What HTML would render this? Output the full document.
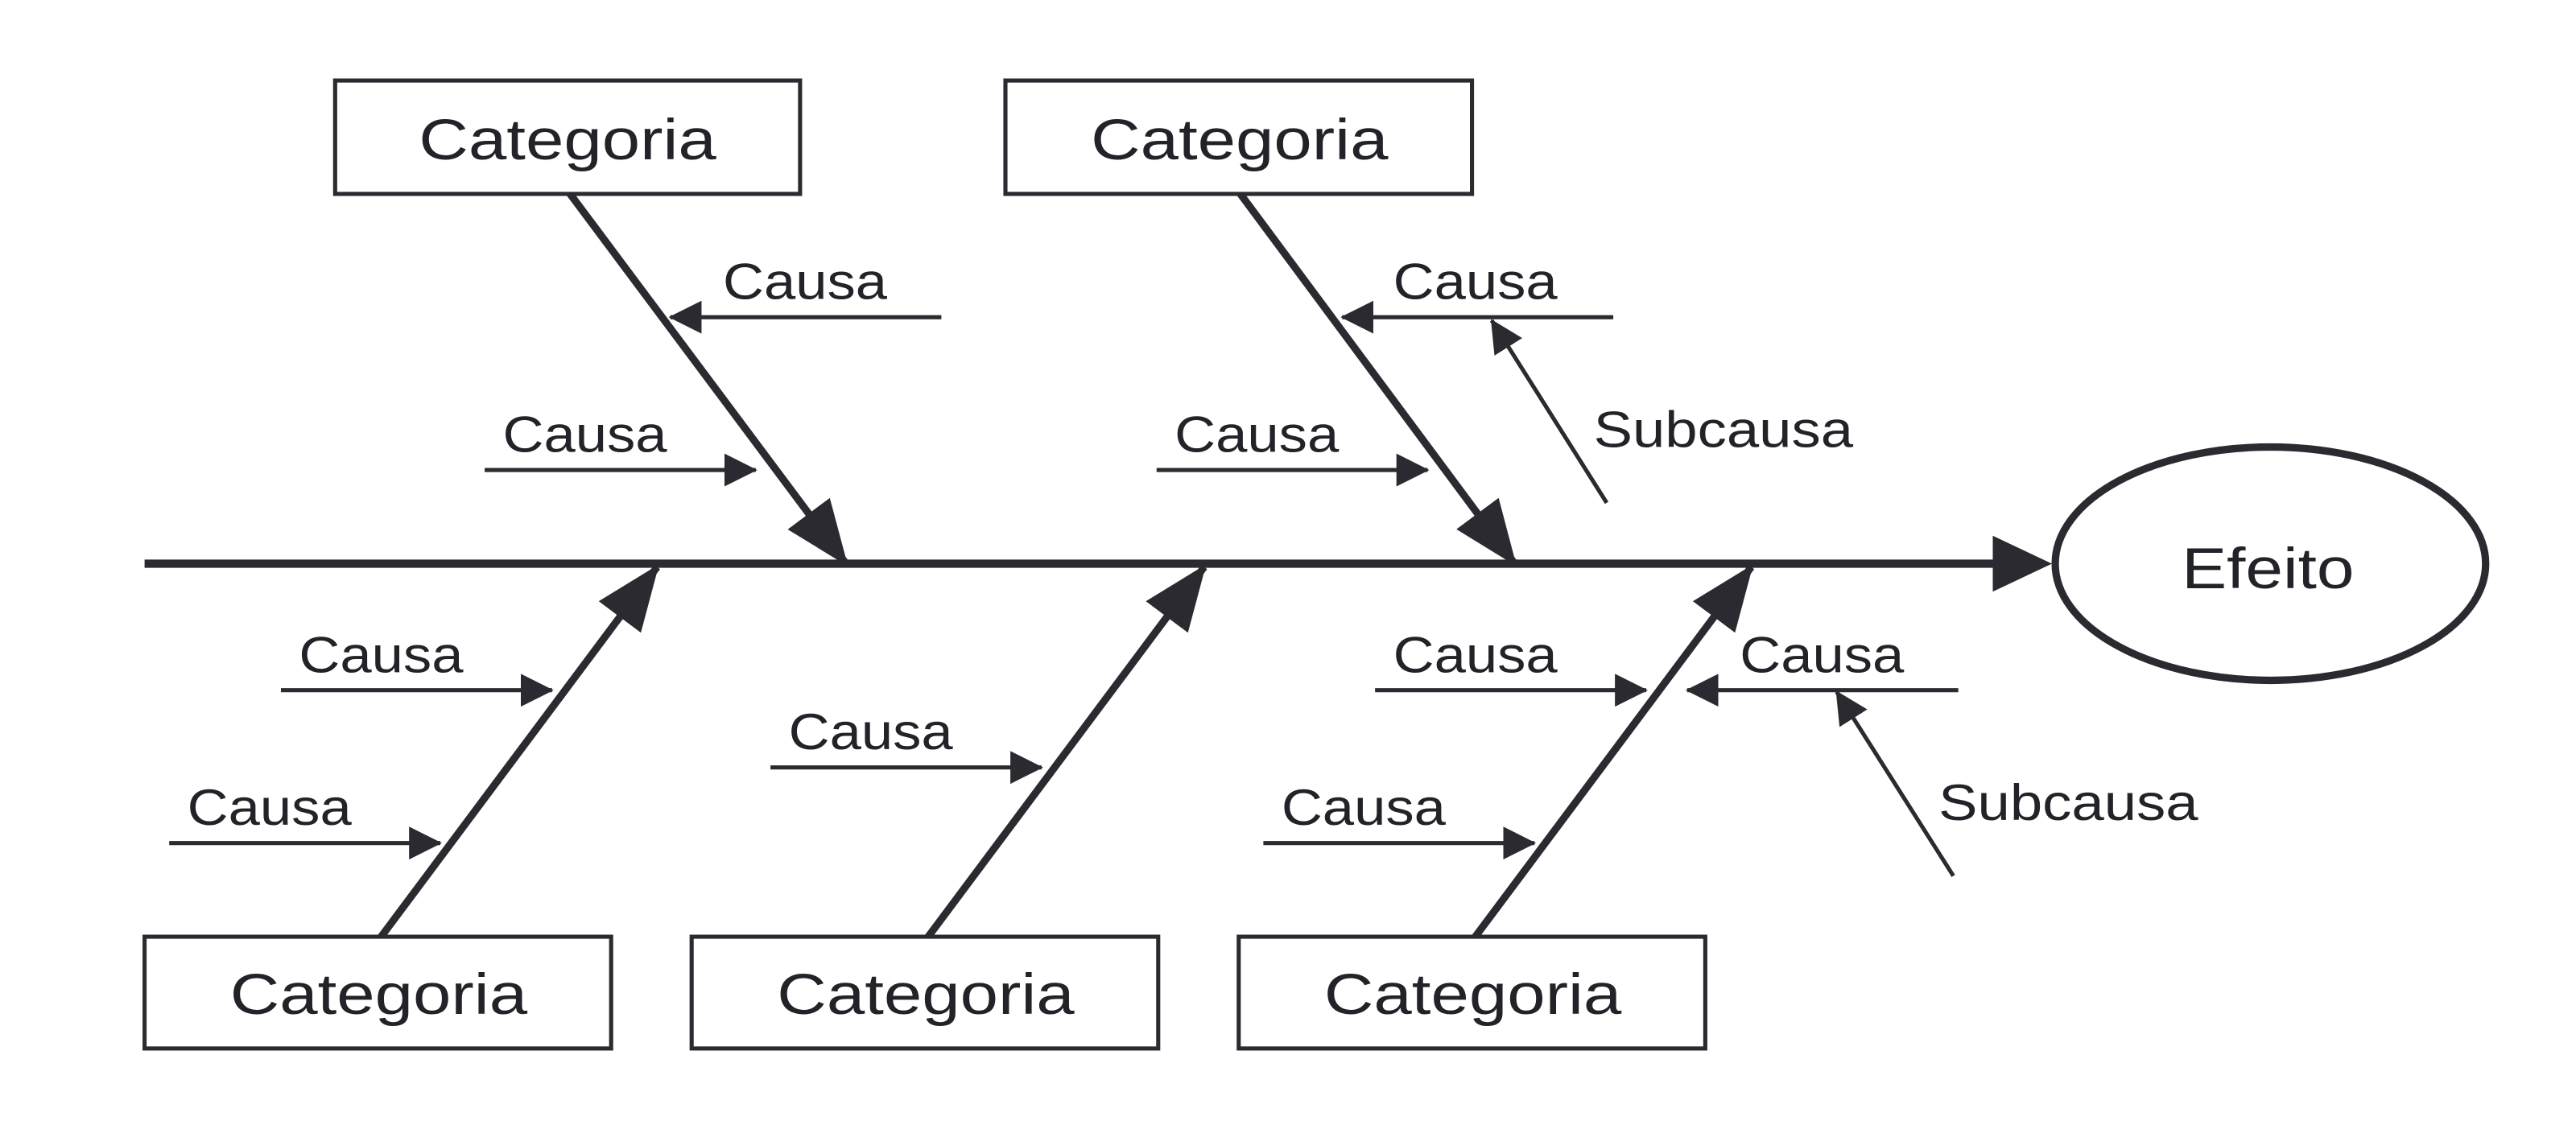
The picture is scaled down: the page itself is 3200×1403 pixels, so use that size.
<!DOCTYPE html>
<html><head><meta charset="utf-8"><style>
html,body{margin:0;padding:0;background:#fff;}
svg{display:block;}
text{font-family:"Liberation Sans",sans-serif;fill:#222228;}
</style></head><body>
<svg width="3200" height="1403" viewBox="0 0 1568 687" preserveAspectRatio="none" xmlns="http://www.w3.org/2000/svg">
<defs>
<marker id="big" viewBox="0 0 40 32" refX="38" refY="16" markerWidth="40" markerHeight="32" markerUnits="userSpaceOnUse" orient="auto"><path d="M0,0 L40,16 L0,32 Z" fill="#2a2a30"/></marker>
<marker id="sm" viewBox="0 0 20 20" refX="19" refY="10" markerWidth="20" markerHeight="20" markerUnits="userSpaceOnUse" orient="auto"><path d="M0,0 L20,10 L0,20 Z" fill="#2a2a30"/></marker>
</defs>
<g stroke="#2a2a30" fill="none">
<!-- spine -->
<line x1="88" y1="343" x2="1217" y2="343" stroke-width="5"/>
<path d="M1213,326 L1249,343 L1213,360 Z" fill="#2a2a30" stroke="none"/>
<ellipse cx="1382" cy="343" rx="131" ry="71" stroke-width="4.5"/>
<!-- boxes -->
<g stroke-width="2.5">
<rect x="204" y="49" width="283" height="69"/>
<rect x="612" y="49" width="284" height="69"/>
<rect x="88" y="570" width="284" height="68"/>
<rect x="421" y="570" width="284" height="68"/>
<rect x="754" y="570" width="284" height="68"/>
</g>
<!-- bones -->
<g stroke-width="4.5">
<line x1="347" y1="118" x2="515" y2="343" marker-end="url(#big)"/>
<line x1="755" y1="118" x2="922" y2="343" marker-end="url(#big)"/>
<line x1="232" y1="570" x2="400" y2="345" marker-end="url(#big)"/>
<line x1="565" y1="570" x2="733" y2="345" marker-end="url(#big)"/>
<line x1="898" y1="570" x2="1066" y2="345" marker-end="url(#big)"/>
</g>
<!-- causes -->
<g stroke-width="2.5">
<line x1="573" y1="193" x2="408" y2="193" marker-end="url(#sm)"/>
<line x1="295" y1="286" x2="460" y2="286" marker-end="url(#sm)"/>
<line x1="982" y1="193" x2="817" y2="193" marker-end="url(#sm)"/>
<line x1="704" y1="286" x2="869" y2="286" marker-end="url(#sm)"/>
<line x1="978" y1="306" x2="908" y2="195" marker-end="url(#sm)"/>
<line x1="171" y1="420" x2="336" y2="420" marker-end="url(#sm)"/>
<line x1="103" y1="513" x2="268" y2="513" marker-end="url(#sm)"/>
<line x1="469" y1="467" x2="634" y2="467" marker-end="url(#sm)"/>
<line x1="837" y1="420" x2="1002" y2="420" marker-end="url(#sm)"/>
<line x1="1192" y1="420" x2="1027" y2="420" marker-end="url(#sm)"/>
<line x1="769" y1="513" x2="934" y2="513" marker-end="url(#sm)"/>
<line x1="1189" y1="533" x2="1118" y2="421" marker-end="url(#sm)"/>
</g>
</g>
<g font-size="35">
<text x="255" y="97" textLength="181" lengthAdjust="spacingAndGlyphs">Categoria</text>
<text x="664" y="97" textLength="181" lengthAdjust="spacingAndGlyphs">Categoria</text>
<text x="140" y="617" textLength="181" lengthAdjust="spacingAndGlyphs">Categoria</text>
<text x="473" y="617" textLength="181" lengthAdjust="spacingAndGlyphs">Categoria</text>
<text x="806" y="617" textLength="181" lengthAdjust="spacingAndGlyphs">Categoria</text>
<text x="1328" y="358" textLength="105" lengthAdjust="spacingAndGlyphs">Efeito</text>
</g>
<g font-size="31">
<text x="440" y="182" textLength="100" lengthAdjust="spacingAndGlyphs">Causa</text>
<text x="306" y="275" textLength="100" lengthAdjust="spacingAndGlyphs">Causa</text>
<text x="848" y="182" textLength="100" lengthAdjust="spacingAndGlyphs">Causa</text>
<text x="715" y="275" textLength="100" lengthAdjust="spacingAndGlyphs">Causa</text>
<text x="970" y="272" textLength="158" lengthAdjust="spacingAndGlyphs">Subcausa</text>
<text x="182" y="409" textLength="100" lengthAdjust="spacingAndGlyphs">Causa</text>
<text x="114" y="502" textLength="100" lengthAdjust="spacingAndGlyphs">Causa</text>
<text x="480" y="456" textLength="100" lengthAdjust="spacingAndGlyphs">Causa</text>
<text x="848" y="409" textLength="100" lengthAdjust="spacingAndGlyphs">Causa</text>
<text x="1059" y="409" textLength="100" lengthAdjust="spacingAndGlyphs">Causa</text>
<text x="780" y="502" textLength="100" lengthAdjust="spacingAndGlyphs">Causa</text>
<text x="1180" y="499" textLength="158" lengthAdjust="spacingAndGlyphs">Subcausa</text>
</g>
</svg>
</body></html>
